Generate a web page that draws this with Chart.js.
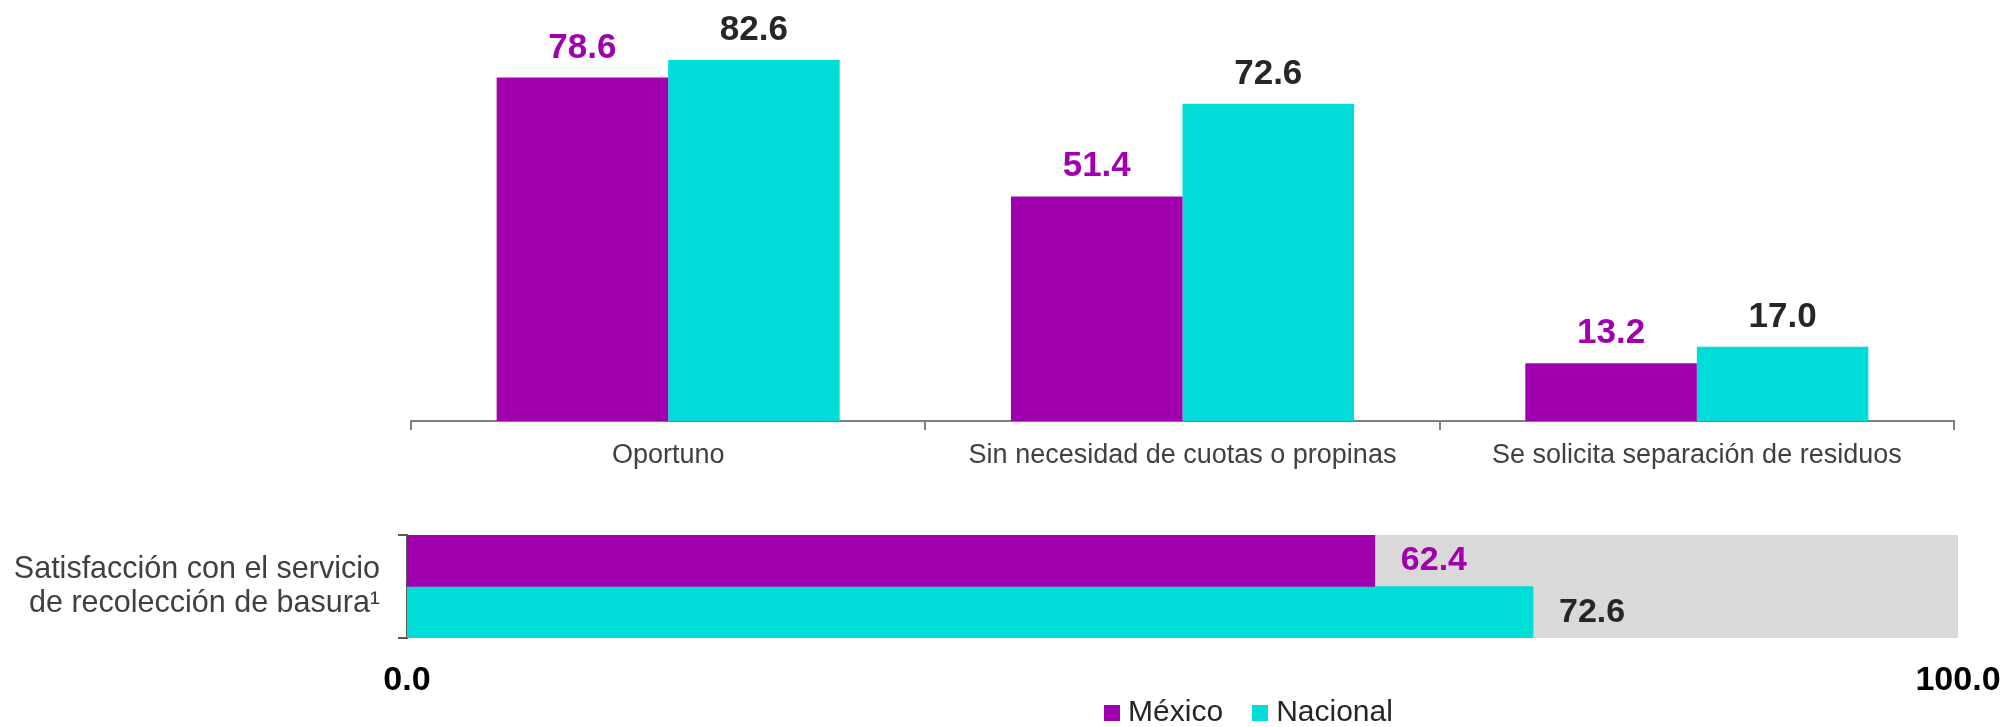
<!DOCTYPE html>
<html lang="es">
<head>
<meta charset="utf-8">
<title>Recolección de basura</title>
<script src="https://cdn.jsdelivr.net/npm/chart.js@4.4.1/dist/chart.umd.min.js"></script>
<style>
    html, body { margin: 0; padding: 0; background: #fff; }
    body { width: 2011px; height: 727px; overflow: hidden; position: relative; }
    canvas { position: absolute; left: 0; }
    #chartSatisfaccion { top: 480px; }
    #chartAtributos { top: -16px; }
</style>
</head>
<body>
<canvas id="chartSatisfaccion" width="2011" height="247"></canvas>
<canvas id="chartAtributos" width="2504" height="754"></canvas>
<script>
// ====================================
// DATOS
// ====================================

const series = ['México', 'Nacional'];

// Atributos del servicio (barras verticales)
const categorias = ['Oportuno', 'Sin necesidad de cuotas o propinas', 'Se solicita separación de residuos'];
const mexico = [78.6, 51.4, 13.2];
const nacional = [82.6, 72.6, 17.0];

// Satisfacción (barras horizontales)
const satisfaccionEtiqueta = [['Satisfacción con el servicio', 'de recolección de basura¹']];
const satisfaccionMexico = [62.4];
const satisfaccionNacional = [72.6];
const ejeTicks = [0, 100];

// ====================================
// ESTILOS
// ====================================

const MORADO = '#A000AD';
const TURQUESA = '#00DDD8';
const GRIS_FONDO = '#D9D9D9';
const TEXTO = '#404040';
const OSCURO = '#262626';
const FUENTE = '"Liberation Sans", Arial, sans-serif';

// Cuadro de color para la leyenda
function cuadro(color) {
    const c = document.createElement('canvas');
    c.width = 16;
    c.height = 16;
    const g = c.getContext('2d');
    g.fillStyle = color;
    g.fillRect(0, 0, 16, 16);
    return c;
}

// Fondo gris del área de la gráfica
const fondoGris = {
    id: 'fondoGris',
    beforeDraw(chart, args, opts) {
        if (!opts.color) return;
        const { ctx, chartArea: a } = chart;
        ctx.save();
        ctx.fillStyle = opts.color;
        ctx.fillRect(a.left, a.top, a.right - a.left, a.bottom - a.top);
        ctx.restore();
    }
};

// Etiquetas con el valor de cada barra
const etiquetasValor = {
    id: 'etiquetasValor',
    afterDatasetsDraw(chart, args, opts) {
        const { ctx } = chart;
        ctx.save();
        ctx.font = 'bold ' + opts.size + 'px ' + FUENTE;
        chart.data.datasets.forEach((ds, i) => {
            const meta = chart.getDatasetMeta(i);
            ctx.fillStyle = opts.colors[i];
            meta.data.forEach((bar, j) => {
                const txt = ds.data[j].toFixed(1);
                if (opts.horizontal) {
                    ctx.textAlign = 'left';
                    ctx.textBaseline = 'middle';
                    ctx.fillText(txt, bar.x + opts.offset, bar.y);
                } else {
                    ctx.textAlign = 'center';
                    ctx.textBaseline = 'alphabetic';
                    ctx.fillText(txt, bar.x, bar.y - opts.offset);
                }
            });
        });
        ctx.restore();
    }
};

Chart.defaults.font.family = FUENTE;
Chart.defaults.animation = false;

// ====================================
// GRÁFICA DE ATRIBUTOS (lleva la leyenda común)
// ====================================

new Chart(document.getElementById('chartAtributos'), {
    type: 'bar',
    data: {
        labels: categorias,
        datasets: [
            { label: series[0], data: mexico, backgroundColor: MORADO, pointStyle: cuadro(MORADO) },
            { label: series[1], data: nacional, backgroundColor: TURQUESA, pointStyle: cuadro(TURQUESA) }
        ]
    },
    options: {
        responsive: false,
        devicePixelRatio: 1,
        categoryPercentage: 0.667,
        barPercentage: 1,
        layout: { padding: 0 },
        plugins: {
            legend: {
                position: 'bottom',
                labels: {
                    usePointStyle: true,
                    pointStyleWidth: 2,
                    padding: 36,
                    color: OSCURO,
                    font: { size: 30 }
                }
            },
            tooltip: { enabled: false },
            etiquetasValor: { colors: [MORADO, OSCURO], offset: 20, size: 35, horizontal: false }
        },
        scales: {
            x: {
                grid: { drawOnChartArea: false, drawTicks: true, tickLength: 9, color: '#7F7F7F', lineWidth: 2 },
                border: { display: true, color: '#7F7F7F', width: 2 },
                ticks: { color: TEXTO, font: { size: 27 }, padding: 9, maxRotation: 0, autoSkip: false },
                afterFit: s => { s.height = 241; }
            },
            y: {
                min: 0,
                max: 100,
                grid: { display: false },
                border: { display: false },
                ticks: { display: false },
                afterFit: s => { s.width = 411; }
            },
            derecha: {
                type: 'linear',
                position: 'right',
                grid: { display: false },
                border: { display: false },
                ticks: { display: false },
                afterFit: s => { s.width = 550; }
            }
        }
    },
    plugins: [etiquetasValor]
});

// ====================================
// GRÁFICA DE SATISFACCIÓN
// ====================================

new Chart(document.getElementById('chartSatisfaccion'), {
    type: 'bar',
    data: {
        labels: satisfaccionEtiqueta,
        datasets: [
            { label: series[0], data: satisfaccionMexico, backgroundColor: MORADO },
            { label: series[1], data: satisfaccionNacional, backgroundColor: TURQUESA }
        ]
    },
    options: {
        indexAxis: 'y',
        responsive: false,
        devicePixelRatio: 1,
        categoryPercentage: 1,
        barPercentage: 1,
        layout: { padding: { left: 0, right: 53, top: 55, bottom: 0 } },
        plugins: {
            legend: { display: false },
            tooltip: { enabled: false },
            fondoGris: { color: GRIS_FONDO },
            etiquetasValor: { colors: [MORADO, OSCURO], offset: 26, size: 34, horizontal: true }
        },
        scales: {
            x: {
                min: 0,
                max: 100,
                grid: { display: false, drawTicks: false },
                border: { display: false },
                ticks: {
                    color: '#000',
                    font: { size: 34, weight: 'bold' },
                    padding: 22,
                    callback: v => Number(v).toFixed(1)
                },
                afterBuildTicks: s => { s.ticks = ejeTicks.map(v => ({ value: v })); },
                afterFit: s => {
                    s.height = 89;
                    s.paddingLeft = 0;
                    s.paddingRight = 0;
                }
            },
            y: {
                grid: { drawOnChartArea: false, drawTicks: true, tickLength: 9, color: '#595959', lineWidth: 2 },
                border: { display: true, color: '#595959', width: 2 },
                ticks: { color: TEXTO, font: { size: 30.5, lineHeight: 1.1 }, padding: 18 },
                afterFit: s => { s.width = 407; }
            }
        }
    },
    plugins: [fondoGris, etiquetasValor]
});
</script>
</body>
</html>
